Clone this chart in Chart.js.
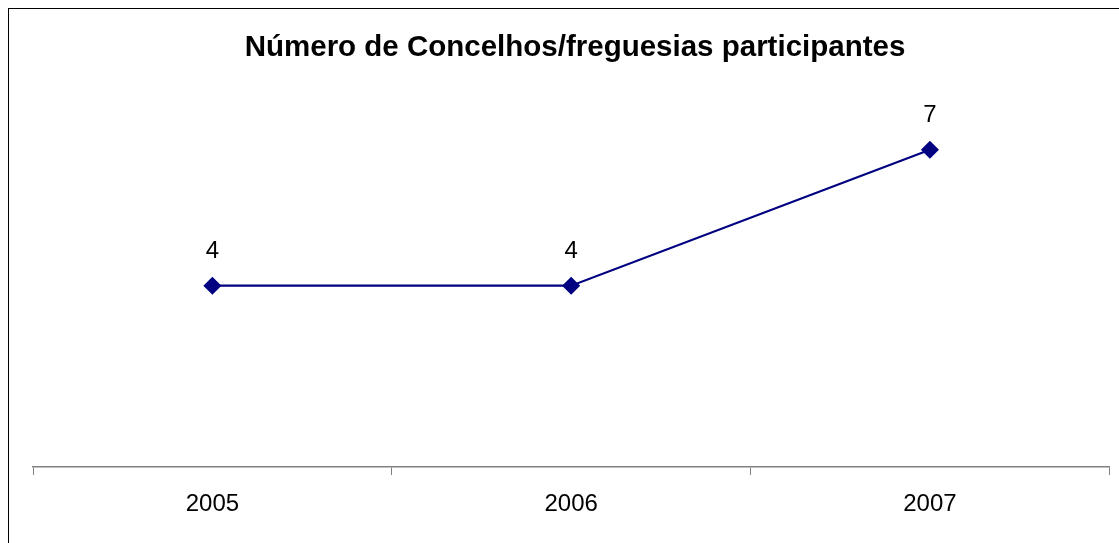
<!DOCTYPE html>
<html>
<head>
<meta charset="utf-8">
<script src="https://cdn.jsdelivr.net/npm/chart.js@4.4.1/dist/chart.umd.min.js"></script>
<style>
html,body{margin:0;padding:0;background:#fff;}
#wrap{position:relative;width:1119px;height:543px;overflow:hidden;}
#frame{position:absolute;left:8px;top:8px;width:2000px;height:2000px;border-left:1px solid #000;border-top:1px solid #000;}
canvas{position:absolute;left:0;top:0;}
</style>
</head>
<body>
<div id="wrap">
<div id="frame"></div>
<canvas id="c" width="1119" height="543"></canvas>
</div>
<script>
const categories = ['2005', '2006', '2007'];
const values = [4, 4, 7];
const titleText = 'Número de Concelhos/freguesias participantes';

const labelPlugin = {
  id: 'valueLabels',
  afterDatasetsDraw(chart) {
    const ctx = chart.ctx;
    const meta = chart.getDatasetMeta(0);
    ctx.save();
    ctx.font = '24px Arial, "Liberation Sans", sans-serif';
    ctx.fillStyle = '#000';
    ctx.textAlign = 'center';
    ctx.textBaseline = 'middle';
    meta.data.forEach((pt, i) => {
      ctx.fillText(String(values[i]), pt.x, pt.y - 34);
    });
    ctx.restore();
  }
};

new Chart(document.getElementById('c'), {
  type: 'line',
  data: {
    labels: categories,
    datasets: [{
      data: values,
      borderColor: '#000080',
      backgroundColor: '#000080',
      borderWidth: 2.2,
      pointStyle: 'rectRot',
      pointRadius: 7.5,
      pointHoverRadius: 7.5,
      pointBackgroundColor: '#000080',
      pointBorderColor: '#000080',
      tension: 0,
      fill: false
    }]
  },
  options: {
    responsive: false,
    animation: false,
    events: [],
    layout: { padding: { left: 33, right: 2, top: 30.6, bottom: 10 } },
    plugins: {
      legend: { display: false },
      tooltip: { enabled: false },
      title: {
        display: true,
        text: titleText,
        color: '#000',
        font: { family: 'Arial, "Liberation Sans", sans-serif', size: 29.5, weight: 'bold', lineHeight: 1.2 },
        padding: { top: 0, bottom: 38.4 }
      }
    },
    scales: {
      x: {
        type: 'category',
        offset: true,
        border: { display: true, color: '#808080', width: 1.5 },
        grid: { display: true, offset: true, drawOnChartArea: false, drawTicks: true, tickLength: 8, color: '#808080', lineWidth: 1 },
        ticks: { color: '#000', padding: 14.6, font: { family: 'Arial, "Liberation Sans", sans-serif', size: 24 } }
      },
      y: {
        display: false,
        min: 0,
        max: 8
      }
    }
  },
  plugins: [labelPlugin]
});
</script>
</body>
</html>
